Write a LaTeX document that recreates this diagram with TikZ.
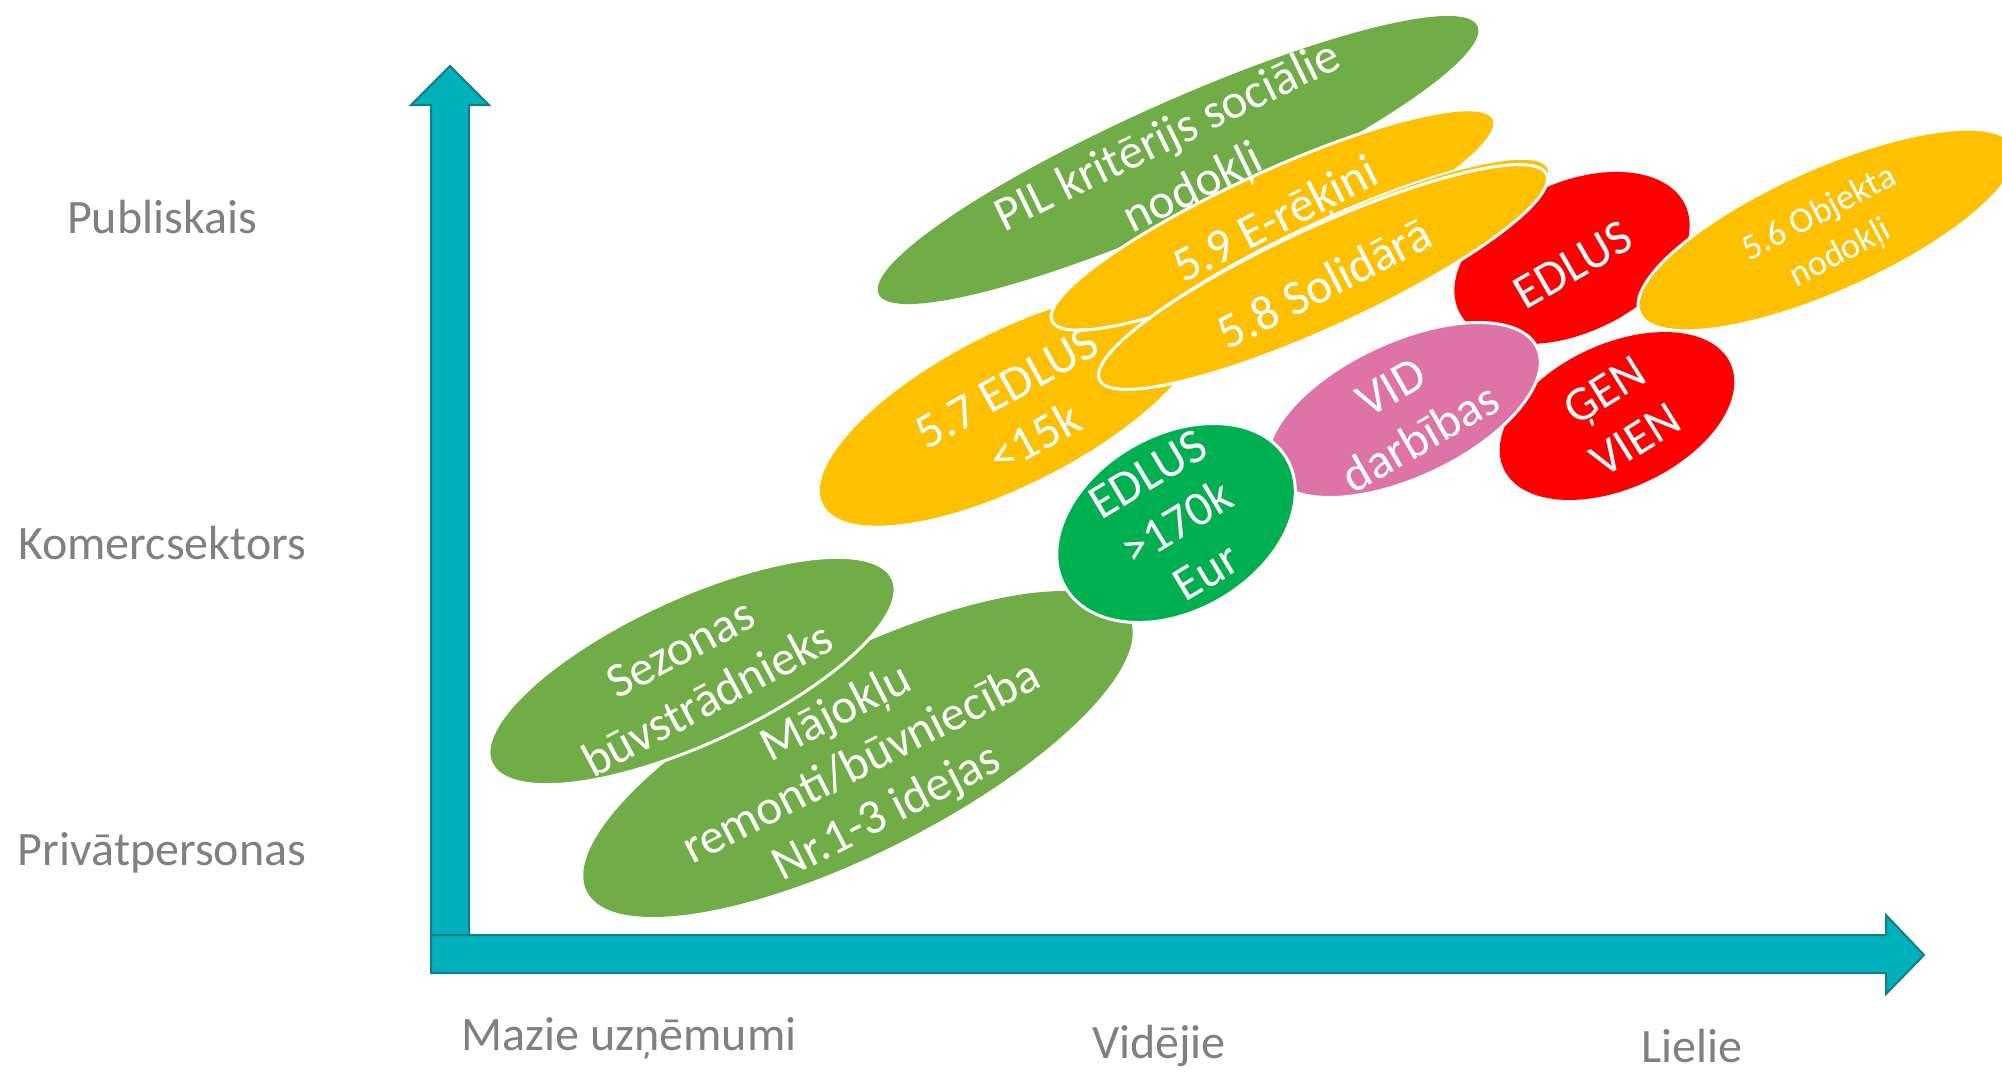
\documentclass[tikz,border=0pt]{standalone}
\usepackage{fontspec}
\setmainfont{Carlito}
\usetikzlibrary{shapes.geometric}
\definecolor{cgreen}{RGB}{112,173,71}
\definecolor{cyellow}{RGB}{255,192,0}
\definecolor{cred}{RGB}{255,0,0}
\definecolor{cbgreen}{RGB}{0,176,80}
\definecolor{cpink}{RGB}{222,115,168}
\definecolor{cteal}{RGB}{0,176,186}
\definecolor{ctealdark}{RGB}{16,126,132}
\definecolor{axgray}{RGB}{128,128,128}
\tikzset{
  blob/.style={ellipse, inner sep=0pt, outer sep=0pt},
  wline/.style={draw=white, line width=3pt},
  lbl/.style={text=white, align=center, inner sep=0pt, font=\fontsize{49}{58}\selectfont},
  axlbl/.style={text=axgray, inner sep=0pt, font=\fontsize{48}{58}\selectfont},
  axisarrow/.style={fill=cteal, draw=ctealdark, line width=2pt, line join=miter},
}
\begin{document}
\begin{tikzpicture}[x=1pt,y=-1pt]
\clip (0,0) rectangle (2002,1072);
\fill[white] (0,0) rectangle (2002,1072);

% axes
\draw[axisarrow] (431,955) -- (431,105) -- (411,105) -- (450,66) -- (489,105) -- (469,105) -- (469,955) -- cycle;
\draw[axisarrow] (431,935) -- (1886,935) -- (1886,915) -- (1924,955) -- (1886,994) -- (1886,973) -- (431,973) -- cycle;

% axis labels
\node[axlbl] (lpub) at (162,217) {Publiskais};
\node[axlbl] (lkom) at (162,543) {Komercsektors};
\node[axlbl] (lpriv) at (162,853) {Privātpersonas};
\node[axlbl] (lmaz) at (629,1038) {Mazie uzņēmumi};
\node[axlbl] (lvid) at (1159,1046) {Vidējie};
\node[axlbl] (llie) at (1692,1046) {Lielie};

% shapes (bottom to top)
\node[blob, fill=cgreen, minimum width=656pt, minimum height=116pt, rotate=24.1] (pil) at (1178,160) {};
\node[blob, fill=cred, minimum width=250pt, minimum height=150pt, rotate=25] (edlusr) at (1572,258) {};
\node[blob, fill=cred, minimum width=250pt, minimum height=144pt, rotate=25] (gen) at (1617,416) {};
\node[blob, fill=cyellow, minimum width=424pt, minimum height=152pt, rotate=27] (e57) at (1012,408) {};
\node[blob, fill=cyellow, wline, minimum width=486pt, minimum height=96pt, rotate=24.6] (e59) at (1273,220) {};
\node[blob, fill=cyellow, draw=white, line width=2pt, minimum width=496pt, minimum height=100pt, rotate=25.3] (e58b) at (1324,274) {};
\node[blob, fill=cyellow, wline, minimum width=492pt, minimum height=100pt, rotate=24.7] (e58) at (1323,277) {};
\node[blob, fill=cyellow, wline, minimum width=410pt, minimum height=124pt, rotate=24] (e56) at (1827,230) {};
\node[blob, fill=cpink, wline, minimum width=294pt, minimum height=136pt, rotate=25] (vid) at (1404,410) {};
\node[blob, fill=cgreen, minimum width=608pt, minimum height=196pt, rotate=26.9] (maj) at (858,754) {};
\node[blob, fill=cgreen, wline, minimum width=442pt, minimum height=146pt, rotate=24.7] (sez) at (692,671) {};
\node[blob, fill=cbgreen, wline, minimum width=256pt, minimum height=176pt, rotate=30] (edlusg) at (1176,523) {};

% texts
\node[lbl, rotate=26] (tpil) at (1181,164) {PIL kritērijs sociālie\\nodokļi};
\node[lbl, rotate=27] (t59) at (1277,222) {5.9 E-rēķini};
\node[lbl, rotate=27] (t58) at (1324,283) {5.8 Solidārā};
\node[lbl, rotate=29] (t57) at (1021,413) {5.7 EDLUS\\<15k};
\node[lbl, rotate=31, font=\fontsize{49}{57}\selectfont] (tedlusg) at (1177,523) {EDLUS\\>170k\\Eur};
\node[lbl, rotate=30] (tvid) at (1406,413) {VID\\darbības};
\node[lbl, rotate=30] (tedlusr) at (1573,265) {EDLUS};
\node[lbl, rotate=32] (tgen) at (1620,415) {ĢEN\\VIEN};
\node[lbl, rotate=27.5, font=\fontsize{36}{45}\selectfont] (t56) at (1830,234) {5.6 Objekta\\nodokļi};
\node[lbl, rotate=28] (tsez) at (694,674) {Sezonas\\būvstrādnieks};
\node[lbl, rotate=27, font=\fontsize{49}{56}\selectfont] (tmaj) at (862,764) {Mājokļu\\remonti/būvniecība\\Nr.1-3 idejas};
\end{tikzpicture}
\end{document}
